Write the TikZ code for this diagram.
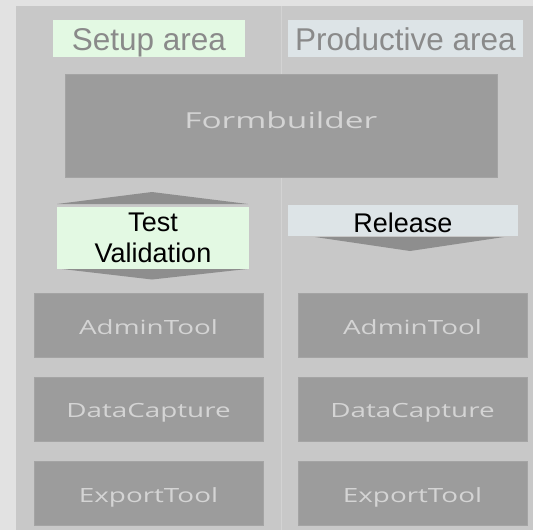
\documentclass[tikz,border=0pt]{standalone}
\usepackage{fontspec}
\setmainfont{Liberation Sans}
\newfontfamily\toolfont[FakeStretch=1.42]{Open Sans}
\newfontfamily\fbfont[FakeStretch=1.52]{Open Sans}
\definecolor{bgcol}{HTML}{E2E2E2}
\definecolor{panelcol}{HTML}{C8C8C8}
\definecolor{boxcol}{HTML}{9C9C9C}
\definecolor{arrcol}{HTML}{8E8E8E}
\definecolor{greencol}{HTML}{E3F9E3}
\definecolor{bluecol}{HTML}{DDE4E7}
\definecolor{hdrtext}{HTML}{8A8A8A}
\definecolor{tooltext}{HTML}{D4D4D4}

\begin{document}
\begin{tikzpicture}[x=1pt,y=-1pt]
\tikzstyle{hdr}=[inner sep=0pt, text=hdrtext, text height=23pt, text depth=0pt, font=\fontsize{31.5}{36}\selectfont]
\tikzstyle{stepbox}=[inner sep=0pt, text=black, align=center, font=\fontsize{27}{31}\selectfont]
\tikzstyle{tool}=[inner sep=0pt, fill=boxcol, draw=boxcol!92!white, line width=0.6pt,
                  minimum width=229pt, minimum height=64pt, text height=17.6pt, text depth=0pt,
                  text=tooltext, font=\toolfont\fontsize{19.6}{24}\selectfont]
\useasboundingbox (0,0) rectangle (533,530);
\clip (0,0) rectangle (533,530);
\fill[bgcol] (0,0) rectangle (533,530);
\fill[panelcol] (16,6) rectangle (545,545);
\draw[panelcol!80!white, line width=0.8pt] (281,6) -- (281,530);

% area headers
\node[hdr, fill=greencol, minimum width=192pt, minimum height=36.4pt] (setup) at (148.9,38.6){Setup area};
\node[hdr, fill=bluecol, minimum width=235pt, minimum height=36.4pt] (prod) at (405.5,38.6){Productive area};

\node[tool, minimum width=432pt, minimum height=103pt, text height=16.7pt, text depth=10.9pt,
      font=\fbfont\fontsize{22}{26}\selectfont] (fb) at (280.8,125.4){Formbuilder};

% arrows
\fill[arrcol] (57,204) -- (152,192) -- (248,204) -- cycle;
\fill[arrcol] (62,269) -- (152,279.5) -- (247,269) -- cycle;
\fill[arrcol] (315,237) -- (410,251) -- (504,237) -- cycle;

\node[stepbox, fill=greencol, minimum width=192pt, minimum height=62.3pt] (test) at (153,238.3){Test\\Validation};
\node[stepbox, fill=bluecol, minimum width=230pt, minimum height=31.3pt, text height=23.7pt, text depth=0pt] (rel) at (403,220.4){Release};

\foreach \n/\t/\y in {adm/AdminTool/325.2,dat/DataCapture/409,exp/ExportTool/493.2}{
	\node[tool] (\n L) at (148.5,\y){\t};
	\node[tool] (\n R) at (412.5,\y){\t};
}

\end{tikzpicture}
\end{document}
